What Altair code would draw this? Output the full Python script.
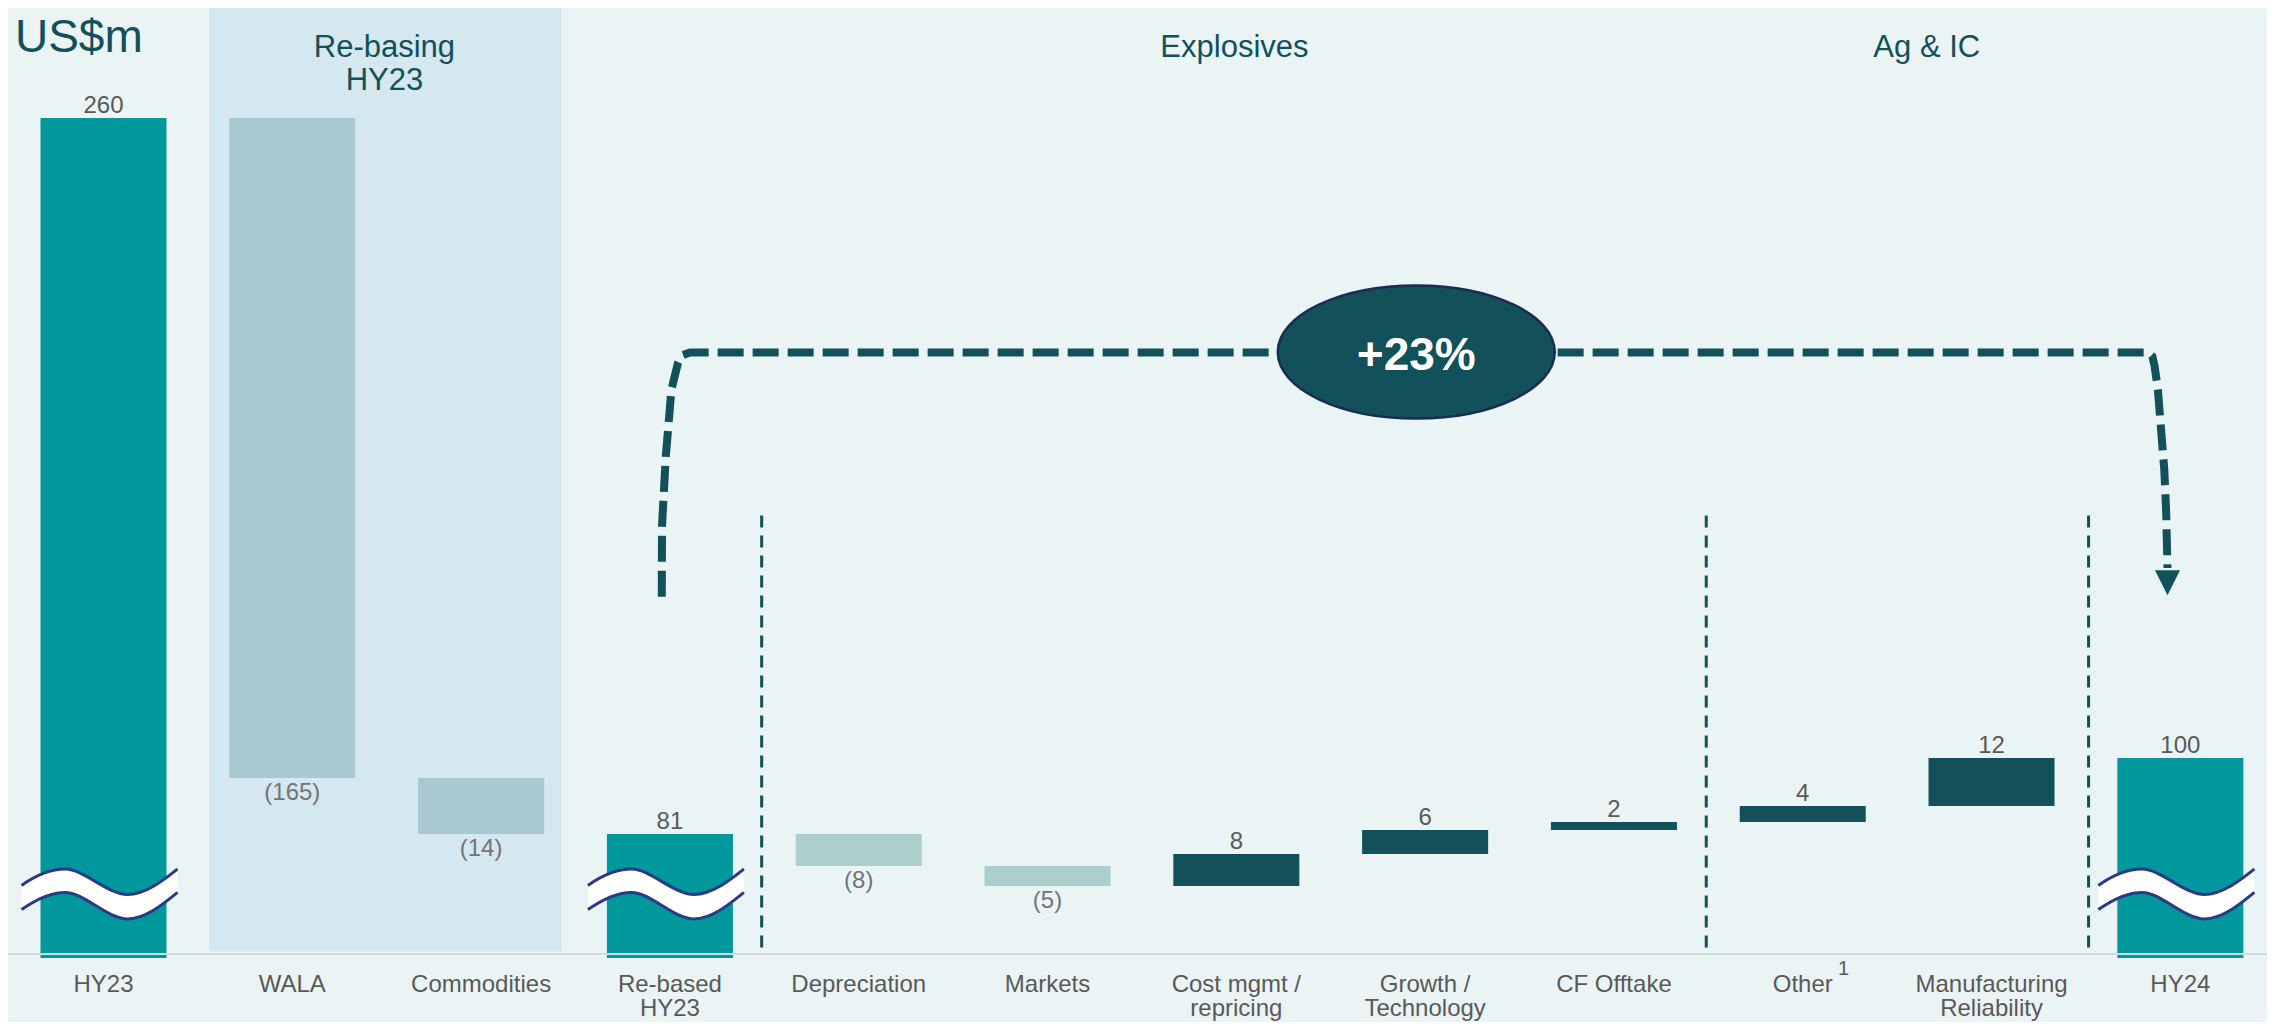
import altair as alt
import pandas as pd

# ---------------- data ----------------
categories = ["HY23", "WALA", "Commodities", "Re-based\nHY23", "Depreciation", "Markets",
              "Cost mgmt /\nrepricing", "Growth /\nTechnology", "CF Offtake", "Other",
              "Manufacturing\nReliability", "HY24"]
values = [260, -165, -14, 81, -8, -5, 8, 6, 2, 4, 12, 100]
kinds = ["total", "rebase", "rebase", "total", "neg", "neg",
         "pos", "pos", "pos", "pos", "pos", "total"]

BREAK_FLOOR = 50     # broken axis: totals start here
BREAK_MARK = 66      # where the "~" break symbol sits
AXIS_BASE = 51       # value at the category baseline

section_text = ["Re-basing", "HY23", "Explosives", "Ag & IC"]
section_x = [1.488, 1.488, 5.99, 9.657]
section_y = [277.5, 269.25, 277.5, 277.5]

separator_x = [3.486, 8.489, 10.514]
separator_top = 161.6
separator_bottom = 52.6

panel_x = [0.559, 2.426]
panel_y = [51.6, 287.5]

bracket_x = [2.957, 2.958, 2.978, 3.008, 3.043, 3.06, 3.106, 10.83, 10.852, 10.864,
             10.881, 10.898, 10.915, 10.925, 10.932]
bracket_y = [140.3, 157.8, 175.3, 192.1, 198.8, 200.6, 201.4, 201.4, 200.4, 197.9,
             192.1, 182.1, 172.1, 161.3, 147.5]
arrow_x = [10.932]
arrow_y = [143.8]

growth_text = ["+23%"]
growth_x = [6.953]
growth_y = [201.5]

unit_text = ["US$m"]
unit_x = [-0.469]
unit_y = [276.5]

footnote_text = ["1"]
footnote_x = [9.216]
footnote_y = [47.2]

# ---------------- styles ----------------
BG = "#EAF4F5"
PANEL = "#D5E7EF"
TEAL = "#00979D"
DARK = "#12505A"
REB = "#A9C9D2"
NEG = "#ADCFCC"
NAVY = "#2B3A86"
FONT = "Liberation Sans"
HALF = 0.3337

X_DOMAIN = [-0.5058, 11.459]
Y_DOMAIN = [51, 287.5]
xs = alt.Scale(domain=X_DOMAIN, nice=False, zero=False)
ys = alt.Scale(domain=Y_DOMAIN, nice=False, zero=False)


def X(field):
    return alt.X(field, scale=xs, axis=None)


def Y(field):
    return alt.Y(field, scale=ys, axis=None)


# ---------------- waterfall table ----------------
rows = []
running = 0
for i, (c, v, k) in enumerate(zip(categories, values, kinds)):
    if k == "total":
        s, e = BREAK_FLOOR, v
        running = v
    else:
        s, e = running, running + v
        running += v
    rows.append(dict(idx=i, cat=c, value=v, kind=k, start=s, end=e,
                     top=max(s, e), bottom=min(s, e), base=AXIS_BASE,
                     label=str(v) if v > 0 else f"({-v})"))
df = pd.DataFrame(rows)

# ---------------- layers ----------------
panel = alt.Chart(pd.DataFrame({"x0": [panel_x[0]], "x1": [panel_x[1]],
                                "y0": [panel_y[0]], "y1": [panel_y[1]]})).mark_rect(
    color=PANEL).encode(x=X("x0:Q"), x2="x1:Q", y=Y("y0:Q"), y2="y1:Q")

seps = alt.Chart(pd.DataFrame({"x": separator_x, "y0": [separator_bottom] * 3,
                               "y1": [separator_top] * 3})).mark_rule(
    color=DARK, strokeWidth=3, strokeDash=[12, 8]).encode(
    x=X("x:Q"), y=Y("y0:Q"), y2="y1:Q")

bars = alt.Chart(df).transform_calculate(
    x0=f"datum.idx - {HALF}", x1=f"datum.idx + {HALF}"
).mark_rect().encode(
    x=X("x0:Q"), x2="x1:Q", y=Y("start:Q"), y2="end:Q",
    color=alt.Color("kind:N", legend=None,
                    scale=alt.Scale(domain=["total", "rebase", "neg", "pos"],
                                    range=[TEAL, REB, NEG, DARK])),
)

baseline = alt.Chart(pd.DataFrame({"y": [AXIS_BASE]})).mark_rule(
    color="#D2D9DB", strokeWidth=2).encode(y=Y("y:Q"))

cat_labels = alt.Chart(df).mark_text(
    font=FONT, fontSize=24, color="#595959", baseline="top", lineBreak="\n",
    lineHeight=24, dy=19).encode(x=X("idx:Q"), y=Y("base:Q"), text="cat:N")

SQ_FILL = ("M-1,-0.11 C-0.8,-0.25 -0.6,-0.32 -0.44,-0.32 C-0.2,-0.32 0.1,0.006 0.36,0.006 "
           "C0.6,0.006 0.85,-0.2 1,-0.32 L1,-0.02 C0.85,0.1 0.6,0.32 0.36,0.32 "
           "C0.1,0.32 -0.2,-0.02 -0.44,-0.02 C-0.6,-0.02 -0.8,0.06 -1,0.2 Z")
SQ_LINE = ("M-1,-0.11 C-0.8,-0.25 -0.6,-0.32 -0.44,-0.32 C-0.2,-0.32 0.1,0.006 0.36,0.006 "
           "C0.6,0.006 0.85,-0.2 1,-0.32 "
           "M-1,0.2 C-0.8,0.06 -0.6,-0.02 -0.44,-0.02 C-0.2,-0.02 0.1,0.32 0.36,0.32 "
           "C0.6,0.32 0.85,0.1 1,-0.02")

totals = df[df.kind == "total"].assign(brk=BREAK_MARK)
sq_fill = alt.Chart(totals).mark_point(
    shape=SQ_FILL, size=24336, filled=True, color="#FFFFFF", opacity=1,
    strokeWidth=0, xOffset=-4).encode(x=X("idx:Q"), y=Y("brk:Q"))
sq_line = alt.Chart(totals).mark_point(
    shape=SQ_LINE, size=24336, filled=False, color=NAVY, opacity=1,
    strokeWidth=3, xOffset=-4).encode(x=X("idx:Q"), y=Y("brk:Q"))

pos_lab = alt.Chart(df[df.value > 0]).mark_text(
    font=FONT, fontSize=24, color="#595959", baseline="alphabetic", dy=-5).encode(
    x=X("idx:Q"), y=Y("top:Q"), text="label:N")
neg_lab = alt.Chart(df[df.value < 0]).mark_text(
    font=FONT, fontSize=24, color="#747474", baseline="alphabetic", dy=22).encode(
    x=X("idx:Q"), y=Y("bottom:Q"), text="label:N")

bracket = alt.Chart(pd.DataFrame({"x": bracket_x, "y": bracket_y,
                                  "o": list(range(len(bracket_x)))})).mark_line(
    color=DARK, strokeWidth=8, strokeDash=[26, 9], strokeCap="butt").encode(
    x=X("x:Q"), y=Y("y:Q"), order="o:Q")

arrow = alt.Chart(pd.DataFrame({"x": arrow_x, "y": arrow_y})).mark_point(
    shape="M-1,-1 L1,-1 L0,1 Z", size=625, filled=True, color=DARK, opacity=1,
    strokeWidth=0).encode(x=X("x:Q"), y=Y("y:Q"))

ellipse = alt.Chart(pd.DataFrame({"x": growth_x, "y": growth_y})).mark_point(
    shape="M-1,0 A1,0.48 0 1,1 1,0 A1,0.48 0 1,1 -1,0 Z", size=76729, filled=True,
    fill=DARK, stroke="#1B2B55", strokeWidth=2.5, opacity=1).encode(
    x=X("x:Q"), y=Y("y:Q"))

growth = alt.Chart(pd.DataFrame({"x": growth_x, "y": growth_y, "t": growth_text})).mark_text(
    font=FONT, fontSize=46, fontWeight="bold", color="#FFFFFF", baseline="middle",
    dy=4).encode(x=X("x:Q"), y=Y("y:Q"), text="t:N")

sections = alt.Chart(pd.DataFrame({"x": section_x, "y": section_y, "t": section_text})).mark_text(
    font=FONT, fontSize=31, color=DARK, baseline="middle").encode(
    x=X("x:Q"), y=Y("y:Q"), text="t:N")

unit = alt.Chart(pd.DataFrame({"x": unit_x, "y": unit_y, "t": unit_text})).mark_text(
    font=FONT, fontSize=46, color=DARK, baseline="alphabetic", align="left").encode(
    x=X("x:Q"), y=Y("y:Q"), text="t:N")

footnote = alt.Chart(pd.DataFrame({"x": footnote_x, "y": footnote_y, "t": footnote_text})).mark_text(
    font=FONT, fontSize=20, color="#595959", baseline="middle").encode(
    x=X("x:Q"), y=Y("y:Q"), text="t:N")

chart = alt.layer(
    panel, seps, bars, baseline, sq_fill, sq_line, pos_lab, neg_lab, cat_labels,
    bracket, arrow, ellipse, growth, sections, unit, footnote
).properties(
    width=2259, height=946,
    autosize=alt.AutoSizeParams(type="none"),
    padding={"left": 0, "top": 0, "right": 0, "bottom": 68},
    background=BG,
).configure_view(stroke=None)

chart.save("out.html", embed_options={"renderer": "svg", "actions": False})
